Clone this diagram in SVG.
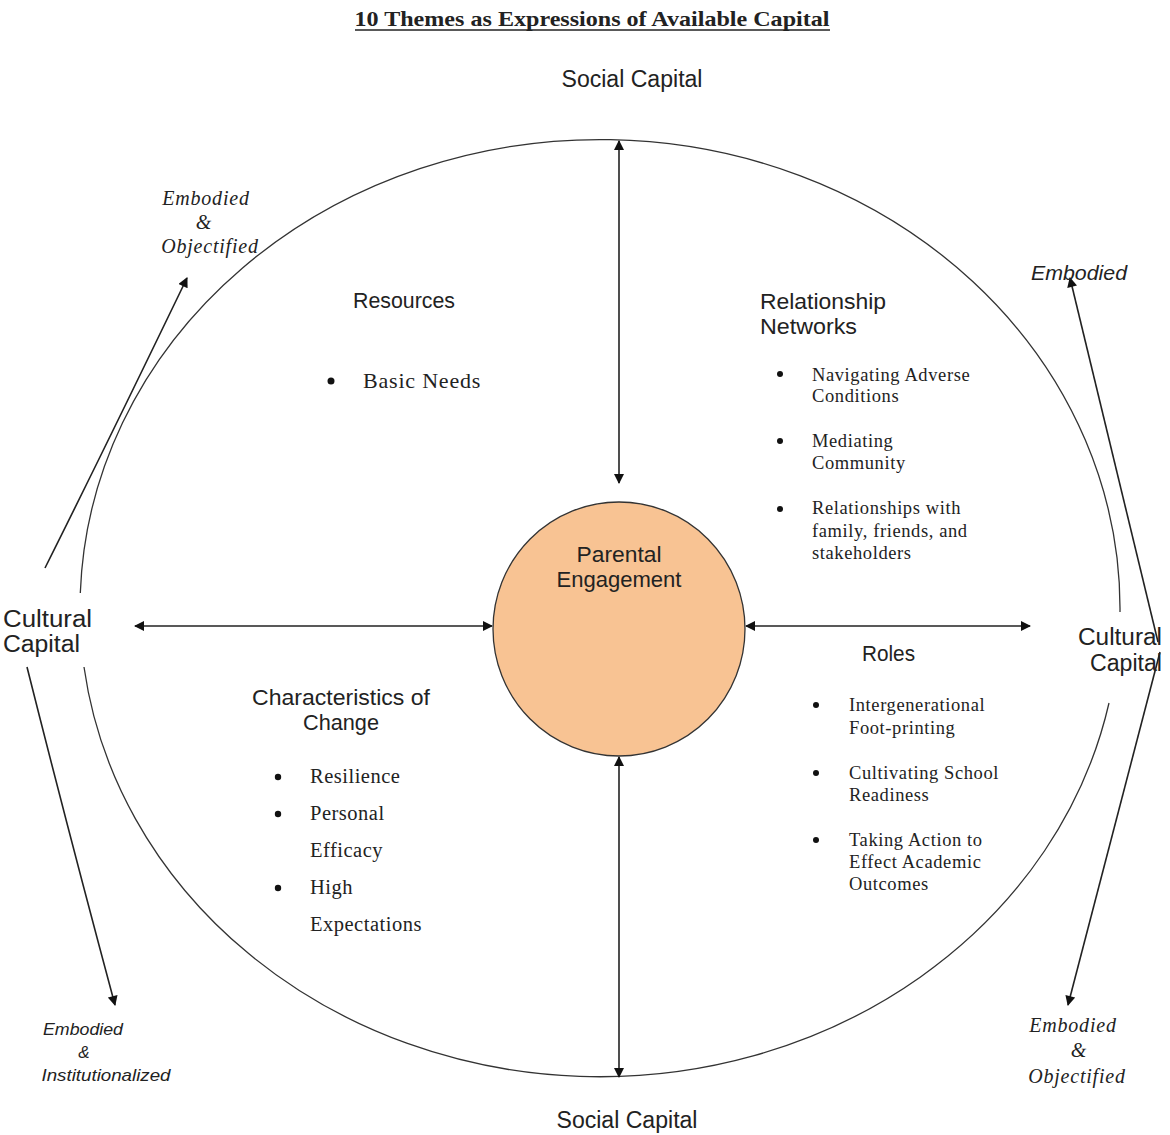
<svg xmlns="http://www.w3.org/2000/svg" width="1170" height="1135" viewBox="0 0 1170 1135">
<style>
.sans{font-family:"Liberation Sans",Arial,sans-serif;fill:#222;}
.serif{font-family:"Liberation Serif","Times New Roman",serif;fill:#222;}
.lbl{font-size:22px;}
.item{font-size:18.5px;letter-spacing:0.6px;}
.chg{font-size:20.5px;letter-spacing:0.5px;}
.ital{font-style:italic;}
.itl{font-size:20px;letter-spacing:0.8px;}
.ln{stroke:#222;stroke-width:1.6;fill:none;}
.circ{stroke:#333;stroke-width:1.3;fill:none;}
.dot{fill:#111;}
</style>
<defs>
<marker id="ah" viewBox="0 0 10 10" refX="9" refY="5" markerWidth="11" markerHeight="10" markerUnits="userSpaceOnUse" orient="auto-start-reverse">
<path d="M0,0 L10,5 L0,10 z" fill="#111"/>
</marker>
</defs>
<rect width="1170" height="1135" fill="#fff"/>

<g id="title">
<text class="serif" x="592" y="26" font-size="21" font-weight="bold" text-anchor="middle" textLength="475" lengthAdjust="spacingAndGlyphs">10 Themes as Expressions of Available Capital</text>
<line x1="355" y1="30" x2="830" y2="30" stroke="#222" stroke-width="1.5"/>
</g>

<g id="outer-circle">
<path class="circ" d="M80.3,593 A520,469 0 0 1 1120,612"/>
<path class="circ" d="M1109,703 A520,469 0 0 1 84,667"/>
</g>

<g id="connectors">
<line class="ln" x1="619" y1="141" x2="619" y2="483" marker-start="url(#ah)" marker-end="url(#ah)"/>
<line class="ln" x1="619" y1="757" x2="619" y2="1077" marker-start="url(#ah)" marker-end="url(#ah)"/>
<line class="ln" x1="135" y1="626" x2="492" y2="626" marker-start="url(#ah)" marker-end="url(#ah)"/>
<line class="ln" x1="746" y1="626" x2="1030" y2="626" marker-start="url(#ah)" marker-end="url(#ah)"/>
<path class="ln" d="M45,568 Q104,450 187,278" marker-end="url(#ah)"/>
<path class="ln" d="M27,667 Q68,830 115,1005" marker-end="url(#ah)"/>
<path class="ln" d="M1158,642 L1070,278" marker-end="url(#ah)"/>
<path class="ln" d="M1160,652 L1068,1005" marker-end="url(#ah)"/>
</g>

<g id="parental-engagement">
<ellipse cx="619" cy="629" rx="126" ry="127" fill="#F8C393" stroke="#333" stroke-width="1.3"/>
<text class="sans lbl" x="619" y="562" text-anchor="middle" textLength="85" lengthAdjust="spacingAndGlyphs">Parental</text>
<text class="sans lbl" x="619" y="587" text-anchor="middle" textLength="125" lengthAdjust="spacingAndGlyphs">Engagement</text>
</g>

<g id="social-capital-top">
<text class="sans" x="632" y="87" font-size="23" text-anchor="middle" textLength="141" lengthAdjust="spacingAndGlyphs">Social Capital</text>
</g>
<g id="social-capital-bottom">
<text class="sans" x="627" y="1128" font-size="23" text-anchor="middle" textLength="141" lengthAdjust="spacingAndGlyphs">Social Capital</text>
</g>

<g id="cultural-capital-left">
<text class="sans" x="92" y="627" font-size="23" text-anchor="end" textLength="89" lengthAdjust="spacingAndGlyphs">Cultural</text>
<text class="sans" x="80" y="652" font-size="23" text-anchor="end" textLength="77" lengthAdjust="spacingAndGlyphs">Capital</text>
</g>
<g id="cultural-capital-right">
<text class="sans" x="1162" y="645" font-size="23" text-anchor="end" textLength="84" lengthAdjust="spacingAndGlyphs">Cultural</text>
<text class="sans" x="1162" y="671" font-size="23" text-anchor="end" textLength="72" lengthAdjust="spacingAndGlyphs">Capital</text>
</g>

<g id="resources">
<text class="sans lbl" x="353" y="308" textLength="102" lengthAdjust="spacingAndGlyphs">Resources</text>
<circle class="dot" cx="331" cy="381" r="3.5"/>
<text class="serif" x="363" y="388" font-size="22" letter-spacing="0.8">Basic Needs</text>
</g>

<g id="relationship-networks">
<text class="sans lbl" x="760" y="309" textLength="126" lengthAdjust="spacingAndGlyphs">Relationship</text>
<text class="sans lbl" x="760" y="334" textLength="97" lengthAdjust="spacingAndGlyphs">Networks</text>
<circle class="dot" cx="780" cy="374" r="3"/>
<text class="serif item" x="812" y="381">Navigating Adverse</text>
<text class="serif item" x="812" y="402">Conditions</text>
<circle class="dot" cx="780" cy="441" r="3"/>
<text class="serif item" x="812" y="447">Mediating</text>
<text class="serif item" x="812" y="469">Community</text>
<circle class="dot" cx="780" cy="509" r="3"/>
<text class="serif item" x="812" y="514">Relationships with</text>
<text class="serif item" x="812" y="537">family, friends, and</text>
<text class="serif item" x="812" y="559">stakeholders</text>
</g>

<g id="roles">
<text class="sans lbl" x="862" y="661" textLength="53" lengthAdjust="spacingAndGlyphs">Roles</text>
<circle class="dot" cx="816" cy="705" r="3"/>
<text class="serif item" x="849" y="711">Intergenerational</text>
<text class="serif item" x="849" y="734">Foot-printing</text>
<circle class="dot" cx="816" cy="773" r="3"/>
<text class="serif item" x="849" y="779">Cultivating School</text>
<text class="serif item" x="849" y="801">Readiness</text>
<circle class="dot" cx="816" cy="840" r="3"/>
<text class="serif item" x="849" y="846">Taking Action to</text>
<text class="serif item" x="849" y="868">Effect Academic</text>
<text class="serif item" x="849" y="890">Outcomes</text>
</g>

<g id="characteristics-of-change">
<text class="sans lbl" x="252" y="705" textLength="178" lengthAdjust="spacingAndGlyphs">Characteristics of</text>
<text class="sans lbl" x="341" y="730" text-anchor="middle" textLength="76" lengthAdjust="spacingAndGlyphs">Change</text>
<circle class="dot" cx="278" cy="777" r="3.2"/>
<text class="serif chg" x="310" y="783">Resilience</text>
<circle class="dot" cx="278" cy="814" r="3.2"/>
<text class="serif chg" x="310" y="820">Personal</text>
<text class="serif chg" x="310" y="857">Efficacy</text>
<circle class="dot" cx="278" cy="888" r="3.2"/>
<text class="serif chg" x="310" y="894">High</text>
<text class="serif chg" x="310" y="931">Expectations</text>
</g>

<g id="label-top-left">
<text class="serif ital itl" x="206" y="205" text-anchor="middle">Embodied</text>
<text class="serif ital itl" x="204" y="229" text-anchor="middle">&amp;</text>
<text class="serif ital itl" x="210" y="253" text-anchor="middle">Objectified</text>
</g>
<g id="label-top-right">
<text class="sans ital" x="1031" y="280" font-size="20" textLength="96" lengthAdjust="spacingAndGlyphs">Embodied</text>
</g>
<g id="label-bottom-left">
<text class="sans ital" x="83" y="1035" font-size="17" text-anchor="middle" textLength="80" lengthAdjust="spacingAndGlyphs">Embodied</text>
<text class="sans ital" x="84" y="1058" font-size="17" text-anchor="middle">&amp;</text>
<text class="sans ital" x="106" y="1081" font-size="17" text-anchor="middle" textLength="129" lengthAdjust="spacingAndGlyphs">Institutionalized</text>
</g>
<g id="label-bottom-right">
<text class="serif ital itl" x="1073" y="1032" text-anchor="middle">Embodied</text>
<text class="serif ital itl" x="1079" y="1057" text-anchor="middle">&amp;</text>
<text class="serif ital itl" x="1077" y="1083" text-anchor="middle">Objectified</text>
</g>
</svg>
